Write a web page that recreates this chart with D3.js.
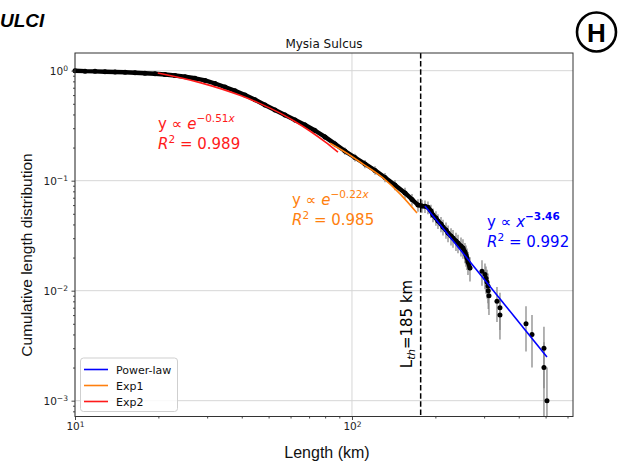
<!DOCTYPE html>
<html><head><meta charset="utf-8">
<script src="https://cdn.jsdelivr.net/npm/d3@7"></script>
<style>body{margin:0;background:#fff}svg{display:block}</style>
</head><body>
<svg id="c" width="620" height="473"></svg>
<script>
// ---------------- data ----------------
const bodyLengthKm = [10.0,10.87,11.81,12.83,13.95,15.16,16.47,17.89,19.45,21.13,22.96,24.95,27.12,29.47,32.02,34.79,37.81,41.08,44.66,48.52,52.72,57.3,62.3,67.7,73.5,79.9,86.8,94.3,102.5,111.4,121.1,131.6,142.9,155.4,164.7,173.1];
const bodyCumDist  = [1.0,0.990,0.986,0.979,0.973,0.967,0.959,0.949,0.937,0.922,0.903,0.880,0.853,0.815,0.765,0.711,0.657,0.601,0.544,0.488,0.439,0.396,0.356,0.321,0.286,0.250,0.216,0.186,0.1625,0.142,0.124,0.107,0.0914,0.0773,0.0675,0.0601];
const bodyErr      = [0.032,0.031,0.031,0.031,0.031,0.031,0.031,0.031,0.031,0.030,0.030,0.030,0.029,0.029,0.028,0.027,0.026,0.025,0.023,0.022,0.021,0.020,0.019,0.018,0.017,0.016,0.015,0.014,0.013,0.012,0.011,0.0103,0.0096,0.0088,0.0082,0.0078];

const tailLengthKm = [178.9,183.5,188.1,192.8,196.1,201.0,204.4,209.6,213.1,218.5,222.2,227.8,231.6,237.4,241.4,247.5,251.6,255.8,258.0,260.1,262.3,266.7];
const tailCumDist  = [0.0589,0.0585,0.0572,0.0530,0.0488,0.0458,0.0430,0.0404,0.0379,0.0356,0.0334,0.0314,0.0301,0.0283,0.0271,0.0255,0.0244,0.0225,0.0211,0.0198,0.0182,0.0161];
const tailErr      = [0.0077,0.0076,0.0076,0.0073,0.0070,0.0068,0.0066,0.0064,0.0062,0.0060,0.0058,0.0056,0.0055,0.0053,0.0052,0.0050,0.0049,0.0047,0.0046,0.0044,0.0043,0.0040];

const sparseLengthKm = [294.7,302.1,304.6,307.2,309.8,310.5,312.3,333.8,342.2,342.2,424.9,446.6,493.3,493.3,505.8];
const sparseCumDist  = [0.015,0.014,0.013,0.012,0.011,0.010,0.009,0.008,0.007,0.006,0.005,0.004,0.003,0.002,0.001];
const sparseErr      = [0.0039,0.0037,0.0036,0.0035,0.0033,0.0032,0.0030,0.0028,0.0026,0.0024,0.0022,0.0020,0.0017,0.0014,0.0010];

const exp2FitKm = [19.9,28.3,39.4,46.6,55,62,70.5,80,89];
const exp2FitCd = [0.953,0.779,0.597,0.502,0.411,0.347,0.283,0.225,0.1815];
const exp1FitKm = [83.3,94.3,110,129.4,150,171.7];
const exp1FitCd = [0.219,0.1824,0.1408,0.1058,0.0746,0.0508];
const powerFitKm = [183.4,505.8];
const powerFitCd = [0.0589,0.00249];

const thresholdKm = 177;
const thresholdText = "185 km";

const xMajorTicks = [10,100];
const xMajorExp   = ["1","2"];
const xMinorTicks = [20,30,40,50,60,70,80,90,200,300,400,500,600];
const yMajorTicks = [1,0.1,0.01,0.001];
const yMajorExp   = ["0","\u22121","\u22122","\u22123"];
const yMinorTicks = [0.0008,0.0009,0.002,0.003,0.004,0.005,0.006,0.007,0.008,0.009,0.02,0.03,0.04,0.05,0.06,0.07,0.08,0.09,0.2,0.3,0.4,0.5,0.6,0.7,0.8,0.9];

const legendLabels = ["Power-law","Exp1","Exp2"];
const exp2Text = {a:"\u22120.51", r2:"0.989"};
const exp1Text = {a:"\u22120.22", r2:"0.985"};
const powText  = {a:"\u22123.46", r2:"0.992"};

// ---------------- styles / layout ----------------
const C_RED="#ff1a1a", C_ORA="#ff7f0e", C_BLU="#0000ff";
const DV="DejaVu Sans", AR="Liberation Sans";
const X0=75, X1=573, Y0=53, Y1=416.5;

const svg = d3.select("#c");
const x = d3.scaleLog().domain([10,628]).range([X0,X1]);
const y = d3.scaleLog().domain([0.000718,1.448]).range([Y1,Y0]);
const yMin = y.domain()[0];

// grid
const grid = svg.append("g").attr("stroke","#d6d6d6").attr("stroke-width",1);
grid.selectAll("line.gx").data(xMajorTicks).join("line")
  .attr("x1",d=>x(d)).attr("x2",d=>x(d)).attr("y1",Y0).attr("y2",Y1);
grid.selectAll("line.gy").data(yMajorTicks).join("line")
  .attr("y1",d=>y(d)).attr("y2",d=>y(d)).attr("x1",X0).attr("x2",X1);

// data: error bars
const pts = [];
bodyLengthKm.forEach((v,i)=>pts.push([v,bodyCumDist[i],bodyErr[i]]));
tailLengthKm.forEach((v,i)=>pts.push([v,tailCumDist[i],tailErr[i]]));
const sparse = sparseLengthKm.map((v,i)=>[v,sparseCumDist[i],sparseErr[i]]);
const allPts = pts.concat(sparse);
const clip = v=>Math.max(v,yMin);
svg.append("g").attr("stroke","#8a8a8a").attr("stroke-width",1.3)
  .selectAll("line").data(allPts).join("line")
  .attr("x1",d=>x(d[0])).attr("x2",d=>x(d[0]))
  .attr("y1",d=>y(clip(d[1]-d[2]))).attr("y2",d=>y(d[1]+d[2]));

// dense data band
const line = d3.line().x(d=>x(d[0])).y(d=>y(d[1]));
svg.append("path").datum(pts).attr("d",line).attr("fill","none")
  .attr("stroke","#000").attr("stroke-width",4.4).attr("stroke-linejoin","round").attr("stroke-linecap","round");
svg.append("g").selectAll("circle").data(allPts).join("circle")
  .attr("cx",d=>x(d[0])).attr("cy",d=>y(d[1])).attr("r",2.5).attr("fill","#000");

// fits
const fitLine = d3.line().x(d=>x(d[0])).y(d=>y(d[1])).curve(d3.curveMonotoneX);
svg.append("path").datum(exp2FitKm.map((v,i)=>[v,exp2FitCd[i]])).attr("d",fitLine)
  .attr("fill","none").attr("stroke",C_RED).attr("stroke-width",1.6);
svg.append("path").datum(exp1FitKm.map((v,i)=>[v,exp1FitCd[i]])).attr("d",fitLine)
  .attr("fill","none").attr("stroke",C_ORA).attr("stroke-width",1.6);
svg.append("path").datum(powerFitKm.map((v,i)=>[v,powerFitCd[i]])).attr("d",fitLine)
  .attr("fill","none").attr("stroke",C_BLU).attr("stroke-width",1.6);

// threshold
svg.append("line").attr("x1",x(thresholdKm)).attr("x2",x(thresholdKm)).attr("y1",Y0).attr("y2",Y1)
  .attr("stroke","#000").attr("stroke-width",1.5).attr("stroke-dasharray","5.5,2.6");
{
  const t = svg.append("text").attr("transform",`translate(${x(thresholdKm)-8.5},324) rotate(-90)`)
    .attr("text-anchor","middle").attr("font-family",DV).attr("font-size",15).attr("fill","#000");
  t.append("tspan").text("L");
  t.append("tspan").attr("font-size",10.5).attr("font-style","italic").attr("dy",3).text("th");
  t.append("tspan").attr("dy",-3).text("=" + thresholdText);
}

// annotations
function annot(px,py,base,exp,r2,color,expBold){
  const g = svg.append("g").attr("font-family",DV).attr("font-size",15).attr("fill",color);
  const t1 = g.append("text").attr("x",px).attr("y",py);
  t1.append("tspan").text("y \u221D ");
  t1.append("tspan").attr("font-style","italic").text(base);
  const s = t1.append("tspan").attr("dy",-7).attr("font-size",10.5);
  if(expBold) s.attr("font-weight","bold");
  s.append("tspan").text(exp);
  if(base==="e") s.append("tspan").attr("font-style","italic").text("x");
  const t2 = g.append("text").attr("x",px).attr("y",py+20);
  t2.append("tspan").attr("font-style","italic").text("R");
  t2.append("tspan").attr("dy",-6).attr("font-size",10.5).text("2");
  t2.append("tspan").attr("dy",6).text(" = " + r2);
}
annot(158,129,"e",exp2Text.a,exp2Text.r2,C_RED,false);
annot(292,205,"e",exp1Text.a,exp1Text.r2,C_ORA,false);
annot(487,226.5,"x",powText.a,powText.r2,C_BLU,true);

// legend
{
  const lg = svg.append("g").attr("font-family",DV).attr("font-size",11);
  lg.append("rect").attr("x",80.5).attr("y",358).attr("width",97).attr("height",53.5).attr("rx",3)
    .attr("fill","#fff").attr("fill-opacity",0.85).attr("stroke","#cfcfcf");
  const cols=[C_BLU,C_ORA,C_RED];
  legendLabels.forEach((lab,i)=>{
    const yy = 369.5 + i*16;
    lg.append("line").attr("x1",84).attr("x2",108).attr("y1",yy).attr("y2",yy).attr("stroke",cols[i]).attr("stroke-width",1.6);
    lg.append("text").attr("x",116).attr("y",yy+4).attr("fill","#111").text(lab);
  });
}

// axes
function supLabels(g, exps){
  g.selectAll(".tick text").each(function(d,i){
    const t=d3.select(this); t.text(null);
    t.append("tspan").text("10");
    t.append("tspan").attr("dy","-0.45em").attr("font-size","0.72em").text(exps[i]);
  });
}
const ax = svg.append("g").attr("transform",`translate(0,${Y1})`)
  .call(d3.axisBottom(x).tickValues(xMajorTicks).tickSize(3.5).tickSizeOuter(0).tickPadding(3).tickFormat(()=>"x"));
supLabels(ax,xMajorExp);
const axm = svg.append("g").attr("transform",`translate(0,${Y1})`)
  .call(d3.axisBottom(x).tickValues(xMinorTicks).tickSize(2).tickSizeOuter(0).tickFormat(""));
const ay = svg.append("g").attr("transform",`translate(${X0},0)`)
  .call(d3.axisLeft(y).tickValues(yMajorTicks).tickSize(3.5).tickSizeOuter(0).tickPadding(3.5).tickFormat(()=>"x"));
supLabels(ay,yMajorExp);
const aym = svg.append("g").attr("transform",`translate(${X0},0)`)
  .call(d3.axisLeft(y).tickValues(yMinorTicks).tickSize(2).tickSizeOuter(0).tickFormat(""));
[ax,axm,ay,aym].forEach(g=>{
  g.attr("font-family",DV).attr("font-size",10.5);
  g.select(".domain").remove();
  g.selectAll(".tick line").attr("stroke","#333").attr("stroke-width",0.9);
  g.selectAll(".tick text").attr("fill","#222");
});

// frame
svg.append("rect").attr("x",X0).attr("y",Y0).attr("width",X1-X0).attr("height",Y1-Y0)
  .attr("fill","none").attr("stroke","#333").attr("stroke-width",1);

// titles / labels
svg.append("text").attr("x",(X0+X1)/2).attr("y",48).attr("text-anchor","middle")
  .attr("font-family",DV).attr("font-size",12).attr("fill","#111").text("Mysia Sulcus");
svg.append("text").attr("x",327).attr("y",458).attr("text-anchor","middle")
  .attr("font-family",AR).attr("font-size",16).attr("fill","#111").text("Length (km)");
svg.append("text").attr("transform","translate(32,255) rotate(-90)").attr("text-anchor","middle")
  .attr("font-family",AR).attr("font-size",15.5).attr("fill","#111").text("Cumulative length distribution");
svg.append("text").attr("x",0).attr("y",27).attr("font-family",AR).attr("font-size",19)
  .attr("font-weight","bold").attr("font-style","italic").attr("fill","#000").text("ULCI");
svg.append("circle").attr("cx",596.5).attr("cy",32).attr("r",19.5).attr("fill","none").attr("stroke","#000").attr("stroke-width",2.6);
svg.append("text").attr("x",596.5).attr("y",41.5).attr("text-anchor","middle").attr("font-family",AR)
  .attr("font-size",26).attr("font-weight","bold").attr("fill","#000").text("H");
</script>
</body></html>
